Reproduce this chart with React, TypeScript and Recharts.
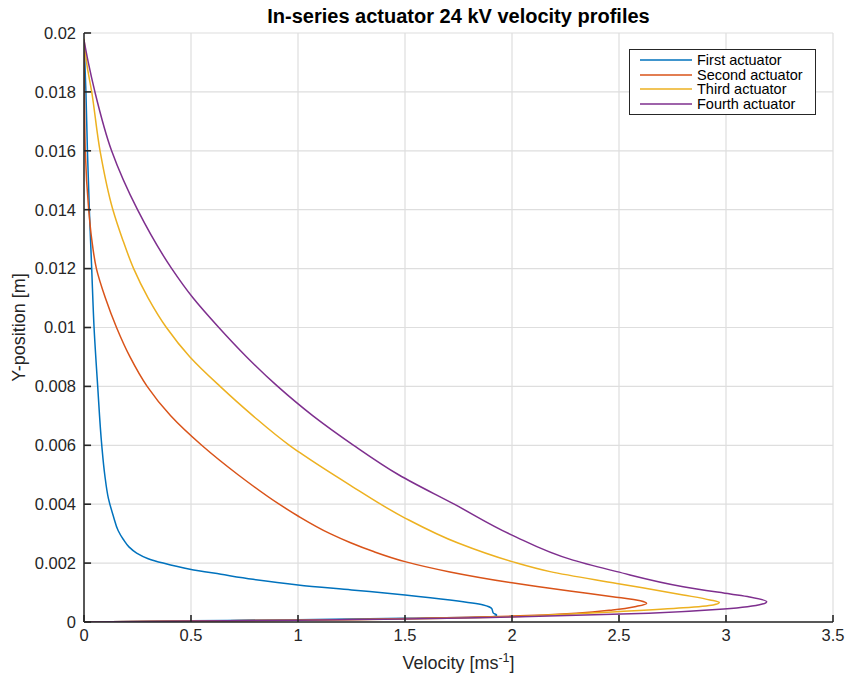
import React from 'react';
import { LineChart, Line, XAxis, YAxis, CartesianGrid, Legend, Label, ReferenceLine } from 'recharts';

const FONT = '"Liberation Sans", Arial, Helvetica, sans-serif';

const xTicks = [0, 0.5, 1, 1.5, 2, 2.5, 3, 3.5];
const yTicks = [0, 0.002, 0.004, 0.006, 0.008, 0.01, 0.012, 0.014, 0.016, 0.018, 0.02];

const seriesNames = ['First actuator', 'Second actuator', 'Third actuator', 'Fourth actuator'];
const seriesColors = ['#0072BD', '#D95319', '#EDB120', '#7E2F8E'];

// each profile listed with increasing Y-position (lower branch, tip, upper branch)
const firstV = [0, 0.5, 1.0, 1.5, 1.913, 1.928, 1.913, 1.905, 1.866, 1.71, 1.5, 1.25, 1.0, 0.79, 0.64, 0.495, 0.37, 0.3, 0.246, 0.21, 0.184, 0.16, 0.137, 0.114, 0.097, 0.083, 0.064, 0.047, 0.036, 0.025, 0.016, 0.009, 0];
const firstY = [0, 0.00004, 0.00008, 0.000126, 0.00018, 0.00024, 0.0003, 0.00046, 0.00058, 0.00075, 0.00092, 0.00109, 0.00126, 0.00145, 0.00162, 0.00179, 0.002, 0.00215, 0.00234, 0.00255, 0.0028, 0.0031, 0.0036, 0.0042, 0.005, 0.006, 0.008, 0.01, 0.012, 0.014, 0.016, 0.018, 0.0198];

const secondV = [0, 0.5, 1.0, 1.4, 1.75, 2.0, 2.3, 2.47, 2.58, 2.629, 2.6, 2.47, 2.27, 2.0, 1.71, 1.5, 1.35, 1.243, 1.15, 1.0, 0.912, 0.72, 0.55, 0.405, 0.295, 0.215, 0.152, 0.1, 0.058, 0.036, 0.022, 0.006, 0.002, 0];
const secondY = [0, 0.00003, 0.00006, 0.0001, 0.00015, 0.0002, 0.0003, 0.00041, 0.00053, 0.00063, 0.00072, 0.00086, 0.00105, 0.00133, 0.0017, 0.00205, 0.0024, 0.0027, 0.003, 0.0036, 0.004, 0.005, 0.006, 0.007, 0.008, 0.009, 0.01, 0.011, 0.012, 0.013, 0.014, 0.016, 0.018, 0.0198];

const thirdV = [0, 0.5, 1.0, 1.5, 2.0, 2.18, 2.49, 2.8, 2.94, 2.969, 2.925, 2.8, 2.49, 2.178, 2.0, 1.748, 1.5, 1.243, 1.009, 0.96, 0.79, 0.636, 0.495, 0.385, 0.3, 0.232, 0.18, 0.135, 0.075, 0.036, 0.012, 0];
const thirdY = [0, 0.00003, 0.00006, 0.0001, 0.00018, 0.00024, 0.00035, 0.00048, 0.00058, 0.00066, 0.00075, 0.00092, 0.00131, 0.00171, 0.00205, 0.00268, 0.00353, 0.00465, 0.00575, 0.006, 0.007, 0.008, 0.009, 0.01, 0.011, 0.012, 0.013, 0.014, 0.016, 0.018, 0.019, 0.0198];

const fourthV = [0, 0.5, 1.0, 1.5, 2.0, 2.64, 2.99, 3.17, 3.19, 3.11, 3.02, 2.8, 2.49, 2.285, 2.0, 1.73, 1.47, 1.26, 1.07, 0.905, 0.76, 0.63, 0.51, 0.41, 0.25, 0.129, 0.051, 0.02, 0];
const fourthY = [0, 0.00003, 0.00006, 0.0001, 0.00017, 0.0003, 0.00044, 0.00061, 0.00069, 0.00085, 0.00095, 0.0012, 0.00171, 0.0021, 0.00295, 0.004, 0.005, 0.006, 0.007, 0.008, 0.009, 0.01, 0.011, 0.012, 0.014, 0.016, 0.018, 0.019, 0.01976];

const toPoints = (v: number[], y: number[]) => v.map((vv, i) => ({ v: vv, y: y[i] }));

const series = [
  toPoints(firstV, firstY),
  toPoints(secondV, secondY),
  toPoints(thirdV, thirdY),
  toPoints(fourthV, fourthY),
];

const AXIS_COLOR = '#262626';
// inward tick mark lengths expressed in axis units (~7 px each)
const X_TICK_LEN = 0.00024;
const Y_TICK_LEN = 0.033;

const renderLegend = (props: any) => {
  const items = ((props.payload || []) as any[])
    .slice()
    .sort((a, b) => seriesNames.indexOf(a.value) - seriesNames.indexOf(b.value));
  return (
    <div
      style={{
        border: '1.5px solid #262626',
        background: '#fff',
        width: 187,
        height: 66,
        boxSizing: 'border-box',
        paddingTop: 3,
      }}
    >
      {items.map((it: any) => (
        <div key={it.value} style={{ display: 'flex', alignItems: 'center', height: 14.5 }}>
          <svg width={63} height={14} style={{ flex: 'none' }}>
            <line x1={10} x2={62} y1={7} y2={7} stroke={it.color} strokeWidth={1.5} />
          </svg>
          <span
            style={{
              fontFamily: FONT,
              fontSize: 14.5,
              lineHeight: '14.5px',
              color: '#000',
              marginLeft: 4,
              whiteSpace: 'nowrap',
            }}
          >
            {it.value}
          </span>
        </div>
      ))}
    </div>
  );
};

const XLabel = (props: any) => {
  const vb = props.viewBox || { x: 84, y: 622, width: 749, height: 54 };
  const cx = vb.x + vb.width / 2;
  return (
    <text x={cx} y={669} textAnchor="middle" fill={AXIS_COLOR} fontFamily={FONT} fontSize={18}>
      <tspan>Velocity [ms</tspan>
      <tspan dy={-7} fontSize={12.5}>-1</tspan>
      <tspan dy={7}>]</tspan>
    </text>
  );
};

const YLabel = (props: any) => {
  const vb = props.viewBox || { x: 0, y: 33, width: 84, height: 589 };
  const cy = vb.y + vb.height / 2;
  const x = 25;
  return (
    <text
      x={x}
      y={cy}
      textAnchor="middle"
      fill={AXIS_COLOR}
      fontFamily={FONT}
      fontSize={18}
      transform={`rotate(-90 ${x} ${cy})`}
    >
      Y-position [m]
    </text>
  );
};

export default function App() {
  return (
    <div style={{ position: 'absolute', left: 0, top: 0, width: 846, height: 676, background: '#fff' }}>
      <LineChart width={846} height={676} margin={{ top: 33, right: 13, left: 0, bottom: 0 }}>
        <CartesianGrid stroke="#dedede" strokeWidth={1.2} />
        <XAxis
          dataKey="v"
          type="number"
          domain={[0, 3.5]}
          ticks={xTicks}
          interval={0}
          height={54}
          allowDataOverflow
          axisLine={{ stroke: AXIS_COLOR, strokeWidth: 1.5 }}
          tickLine={false}
          tickSize={0}
          tickMargin={7}
          tick={{ fill: AXIS_COLOR, fontSize: 16.5, fontFamily: FONT }}
        >
          <Label content={<XLabel />} />
        </XAxis>
        <YAxis
          dataKey="y"
          type="number"
          domain={[0, 0.02]}
          ticks={yTicks}
          interval={0}
          width={84}
          allowDataOverflow
          axisLine={{ stroke: AXIS_COLOR, strokeWidth: 1.5 }}
          tickLine={false}
          tickSize={0}
          tickMargin={8}
          tick={{ fill: AXIS_COLOR, fontSize: 16.5, fontFamily: FONT }}
        >
          <Label content={<YLabel />} />
        </YAxis>
        <Legend
          layout="horizontal"
          verticalAlign="middle"
          align="center"
          content={renderLegend}
          wrapperStyle={{ position: 'absolute', left: 629, top: 49, width: 187, height: 66 }}
        />
        {series.map((d, i) => (
          <Line
            key={seriesNames[i]}
            data={d}
            dataKey="y"
            name={seriesNames[i]}
            type="monotoneY"
            stroke={seriesColors[i]}
            strokeWidth={1.5}
            dot={false}
            activeDot={false}
            isAnimationActive={false}
          />
        ))}
        {xTicks.map((t) => (
          <ReferenceLine
            key={'xt' + t}
            segment={[{ x: t, y: 0 }, { x: t, y: X_TICK_LEN }]}
            stroke={AXIS_COLOR}
            strokeWidth={1.6}
            ifOverflow="visible"
          />
        ))}
        {yTicks.map((t) => (
          <ReferenceLine
            key={'yt' + t}
            segment={[{ x: 0, y: t }, { x: Y_TICK_LEN, y: t }]}
            stroke={AXIS_COLOR}
            strokeWidth={1.6}
            ifOverflow="visible"
          />
        ))}
      </LineChart>
      <svg
        width={846}
        height={40}
        style={{ position: 'absolute', left: 0, top: 0, pointerEvents: 'none' }}
      >
        <text
          x={458.5}
          y={23}
          textAnchor="middle"
          fill="#000"
          fontFamily={FONT}
          fontSize={20}
          fontWeight="bold"
        >
          In-series actuator 24 kV velocity profiles
        </text>
      </svg>
    </div>
  );
}
